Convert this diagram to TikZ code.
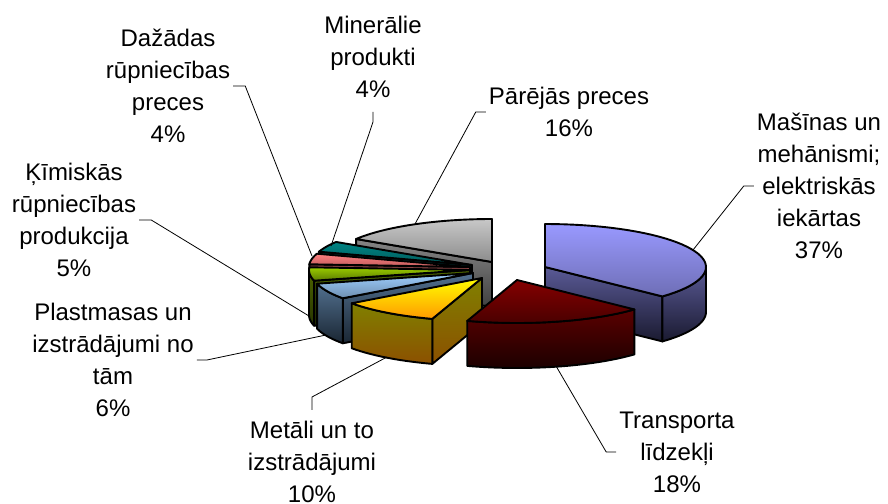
\documentclass[tikz,border=0pt]{standalone}
\usepackage{fontspec}
\setmainfont{Liberation Sans}

\definecolor{blueA}{HTML}{9999FF}
\definecolor{blueB}{HTML}{6E6EB5}
\definecolor{blueC}{HTML}{5A5A96}
\definecolor{blueD}{HTML}{1A1A30}
\definecolor{redA}{HTML}{840000}
\definecolor{redB}{HTML}{4A0000}
\definecolor{redC}{HTML}{5A0000}
\definecolor{redD}{HTML}{1C0000}
\definecolor{yelA}{HTML}{FFFF00}
\definecolor{yelB}{HTML}{FF9900}
\definecolor{yelC}{HTML}{808000}
\definecolor{yelD}{HTML}{8C5000}
\definecolor{steelA}{HTML}{9ECFFF}
\definecolor{steelB}{HTML}{6E8EB0}
\definecolor{steelC}{HTML}{52708F}
\definecolor{steelD}{HTML}{1A2633}
\definecolor{greenA}{HTML}{99CC00}
\definecolor{greenB}{HTML}{5C7A00}
\definecolor{greenC}{HTML}{4E6600}
\definecolor{greenD}{HTML}{263300}
\definecolor{pinkA}{HTML}{FF8080}
\definecolor{pinkB}{HTML}{C05C5C}
\definecolor{pinkC}{HTML}{8C4646}
\definecolor{pinkD}{HTML}{402020}
\definecolor{tealA}{HTML}{008585}
\definecolor{tealB}{HTML}{005A5A}
\definecolor{tealC}{HTML}{004848}
\definecolor{tealD}{HTML}{002222}
\definecolor{grayA}{HTML}{C8C8C8}
\definecolor{grayB}{HTML}{8C8C8C}
\definecolor{grayC}{HTML}{858585}
\definecolor{grayD}{HTML}{404040}

\tikzset{
  face/.style={draw=black, line width=1.9pt, line join=round},
  lbl/.style={align=center, font=\fontsize{24}{32}\selectfont, inner sep=3pt},
  lead/.style={draw=black, line width=0.8pt}
}

\begin{document}
\begin{tikzpicture}[x=1pt, y=-1pt]
    \useasboundingbox (0,0) rectangle (888,503);

    % Parejas preces 16%
    \draw[face, top color=grayC, bottom color=grayD](492,262)--(356.1,239)--++(0,45)--(492,307)--cycle;
    \draw[face, top color=grayA, bottom color=grayB](492,262)--plot[domain=90:147.6, samples=25]({492+161*cos(\x)},{262-43*sin(\x)})--cycle;

    % Mineralie produkti 4%
    \draw[face, top color=tealC, bottom color=tealD](472,265)--(318.9,251.7)--++(0,45)--(472,310)--cycle;
    \draw[face, top color=tealA, bottom color=tealB](472,265)--plot[domain=147.6:162, samples=10]({472+161*cos(\x)},{265-43*sin(\x)})--cycle;

    % Dazadas rupniecibas preces 4%
    \draw[face, top color=pinkC, bottom color=pinkD](470,267)--(309.3,264.3)--++(0,45)--(470,312)--cycle;
    \draw[face, top color=pinkA, bottom color=pinkB](470,267)--plot[domain=162:176.4, samples=10]({470+161*cos(\x)},{267-43*sin(\x)})--cycle;

    % Kimiskas rupniecibas produkcija 5%
    \draw[face, top color=greenC, bottom color=greenD](470,270)--(314.1,280.7)--++(0,45)--(470,315)--cycle;
    \draw[face, top color=greenC, bottom color=greenD]plot[domain=180:194.4, samples=10]({470+161*cos(\x)},{270-43*sin(\x)})--plot[domain=194.4:180, samples=10]({470+161*cos(\x)},{315-43*sin(\x)})--cycle;
    \draw[face, top color=greenA, bottom color=greenB](470,270)--plot[domain=176.4:194.4, samples=10]({470+161*cos(\x)},{270-43*sin(\x)})--cycle;

    % Plastmasas un izstradajumi no tam 6%
    \draw[face, top color=steelC, bottom color=steelD](473,273)--(342.8,298.3)--++(0,45)--(473,318)--cycle;
    \draw[face, top color=steelC, bottom color=steelD]plot[domain=194.4:216, samples=12]({473+161*cos(\x)},{273-43*sin(\x)})--plot[domain=216:194.4, samples=12]({473+161*cos(\x)},{318-43*sin(\x)})--cycle;
    \draw[face, top color=steelA, bottom color=steelB](473,273)--plot[domain=194.4:216, samples=12]({473+161*cos(\x)},{273-43*sin(\x)})--cycle;

    % Metali un to izstradajumi 10%
    \draw[face, top color=yelC, bottom color=yelD](482,278)--(432.3,318.9)--++(0,45)--(482,323)--cycle;
    \draw[face, top color=yelC, bottom color=yelD]plot[domain=216:252, samples=15]({482+161*cos(\x)},{278-43*sin(\x)})--plot[domain=252:216, samples=15]({482+161*cos(\x)},{323-43*sin(\x)})--cycle;
    \draw[face, top color=yelA, bottom color=yelB](482,278)--plot[domain=216:252, samples=15]({482+161*cos(\x)},{278-43*sin(\x)})--cycle;

    % Masinas un mehanismi 37%
    \draw[face, top color=blueC, bottom color=blueD](545,267)--(662.4,296.4)--++(0,45)--(545,312)--cycle;
    \draw[face, top color=blueC, bottom color=blueD]plot[domain=-43.2:0, samples=15]({545+161*cos(\x)},{267-43*sin(\x)})--plot[domain=0:-43.2, samples=15]({545+161*cos(\x)},{312-43*sin(\x)})--cycle;
    \draw[face, top color=blueA, bottom color=blueB](545,267)--plot[domain=-43.2:90, samples=40]({545+161*cos(\x)},{267-43*sin(\x)})--cycle;

    % Transporta lidzekli 18%
    \draw[face, top color=redC, bottom color=redD]plot[domain=252:316.8, samples=25]({517+161*cos(\x)},{280-43*sin(\x)})--plot[domain=316.8:252, samples=25]({517+161*cos(\x)},{325-43*sin(\x)})--cycle;
    \draw[face, top color=redA, bottom color=redB](517,280)--plot[domain=252:316.8, samples=25]({517+161*cos(\x)},{280-43*sin(\x)})--cycle;

    % leader ends on the slices
    \coordinate (masend) at (693,250);
    \coordinate (parend) at (415,224);
    \coordinate (traend) at (556,366);
    \coordinate (metend) at (387,357);
    \coordinate (plaend) at (326,335);
    \coordinate (kimend) at (309,316);
    \coordinate (dazend) at (312,256);
    \coordinate (minend) at (331,246);

    \node[lbl] (mas) at (819,186) {Mašīnas un\\mehānismi;\\elektriskās\\iekārtas\\37\%};
    \node[lbl] (par) at (569,112) {Pārējās preces\\16\%};
    \node[lbl] (tra) at (677,452) {Transporta\\līdzekļi\\18\%};
    \node[lbl] (met) at (312,462) {Metāli un to\\izstrādājumi\\10\%};
    \node[lbl] (pla) at (113,360) {Plastmasas un\\izstrādājumi no\\tām\\6\%};
    \node[lbl] (kim) at (74,220) {Ķīmiskās\\rūpniecības\\produkcija\\5\%};
    \node[lbl] (daz) at (168,86) {Dažādas\\rūpniecības\\preces\\4\%};
    \node[lbl] (min) at (373,57) {Minerālie\\produkti\\4\%};

    \draw[lead](mas.west)--++(-10,0)--(masend);
    \draw[lead](par.west)--++(-10,0)--(parend);
    \draw[lead](tra.west)--++(-10,0)--(traend);
    \draw[lead]([yshift=8pt]met.north)--++(0,-13)--(metend);
    \draw[lead](pla.east)--++(10,0)--(plaend);
    \draw[lead](kim.east)--++(12,0)--(kimend);
    \draw[lead](daz.east)--++(12,0)--(dazend);
    \draw[lead]([yshift=-11pt]min.south)--++(0,10)--(minend);
\end{tikzpicture}
\end{document}
